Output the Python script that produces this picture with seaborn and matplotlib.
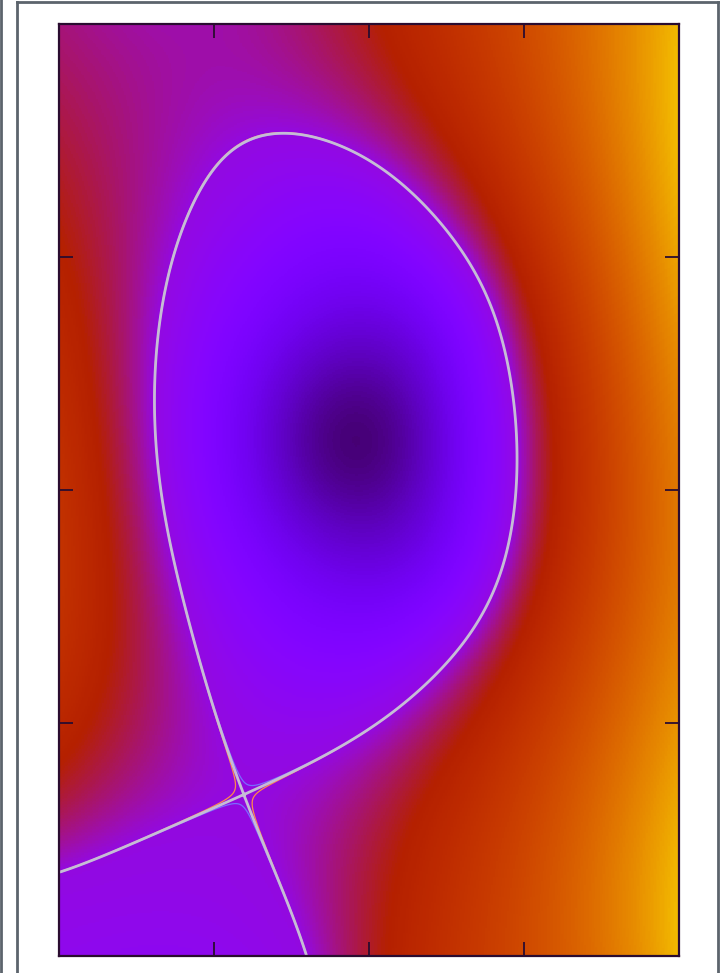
import numpy as np
import pandas as pd
import matplotlib
matplotlib.use("Agg")
import matplotlib.pyplot as plt
from matplotlib.lines import Line2D
import seaborn as sns

# Domain of the poloidal cross-section (major radius R, height Z)
R_MIN, R_MAX = 1.0, 3.0
Z_MIN, Z_MAX = -1.5, 1.5

# Normalised flux on the colour scale: magnetic axis and separatrix
axis_R, axis_Z, axis_level = 1.955, 0.16, 0.085
xpt_R, xpt_Z = 1.600, -0.982
sep_level = 0.33

# Separatrix trace (last closed flux surface plus the two divertor legs)
sep_R = [1.665, 1.584, 1.745, 1.874, 2.100, 2.261, 2.390, 2.461, 2.481, 2.455,
         2.390, 2.268, 2.100, 1.874, 1.713, 1.535, 1.439, 1.365, 1.319, 1.310,
         1.319, 1.352, 1.406, 1.477, 1.552, 1.423, 1.213, 1.000, 1.658, 1.726,
         1.794, 1.620, 1.710]
sep_Z = [1.152, 1.127, 1.140, 1.112, 0.998, 0.821, 0.596, 0.354, 0.129, -0.129,
         -0.354, -0.547, -0.692, -0.837, -0.927, 1.062, 0.933, 0.740, 0.515, 0.290,
         0.064, -0.161, -0.386, -0.644, -0.869, -1.056, -1.146, -1.230, -1.143, -1.320,
         -1.500, 1.148, 1.148]

# Sampled colour-scale values across the section
samp_R = [
    1.01, 1.294, 1.455, 1.665, 1.777, 1.939, 2.035, 2.229, 2.52, 2.65, 2.745, 2.99,
    1.01, 1.01, 1.01, 1.01, 1.01, 1.01, 1.132, 1.132, 1.132,
    1.01, 1.01, 1.294, 1.294, 1.52, 1.58, 1.01, 1.19, 1.40,
    2.00, 2.035, 2.26, 2.52, 2.552, 2.745, 2.99,
    2.99, 2.99, 2.99, 2.99, 2.81, 2.81, 2.81, 2.81,
    2.261, 2.519, 2.600, 2.552, 2.358, 2.197, 1.906,
    2.826, 2.874, 2.826,
    1.665, 2.552, 1.245, 2.326, 2.326, 1.423, 1.390,
    1.665, 2.406, 1.384, 2.229, 2.261, 1.535,
    1.616, 1.955, 1.955, 2.261, 1.955, 1.955,
]
samp_Z = [
    1.49, 1.384, 1.49, 1.384, 1.49, 1.32, 1.49, 1.384, 1.49, 1.48, 1.384, 1.49,
    1.094, 0.773, 0.129, -0.515, -0.998, 0.45, 0.129, 0.612, -0.515,
    -1.448, -1.33, -1.448, -1.30, -1.448, -1.18, -1.50, -1.50, -1.50,
    -1.49, -1.48, -1.49, -1.49, -1.48, -1.32, -1.49,
    0.773, 0.129, -0.676, 1.20, 1.094, 0.45, -0.19, -1.0,
    1.159, 0.612, 0.129, -0.418, -0.869, -0.998, -1.255,
    0.773, 0.129, -0.676,
    1.223, 0.129, 0.290, 0.869, -0.612, -0.740, 1.030,
    1.080, 0.129, 0.290, 0.773, -0.418, -0.676,
    0.129, 0.773, -0.515, 0.129, 0.45, -0.15,
]
samp_v = [
    0.44, 0.45, 0.44, 0.45, 0.46, 0.48, 0.50, 0.55, 0.66, 0.70, 0.76, 0.90,
    0.47, 0.49, 0.51, 0.50, 0.44, 0.50, 0.49, 0.48, 0.49,
    0.32, 0.325, 0.32, 0.32, 0.315, 0.32, 0.32, 0.32, 0.32,
    0.50, 0.50, 0.60, 0.70, 0.70, 0.80, 0.88,
    0.86, 0.80, 0.83, 0.90, 0.82, 0.75, 0.75, 0.81,
    0.50, 0.50, 0.50, 0.50, 0.50, 0.53, 0.46,
    0.70, 0.70, 0.70,
    0.42, 0.42, 0.43, 0.41, 0.42, 0.41, 0.42,
    0.30, 0.28, 0.28, 0.28, 0.28, 0.29,
    0.22, 0.24, 0.25, 0.20, 0.14, 0.14,
]

# Plasma current elements (R, Z, core radius) and the divertor coil
src_R = [1.955, 1.70, 1.70, 2.20, 2.20, 1.95, 1.95, 1.62, 2.25, 1.35]
src_Z = [0.16, 0.55, -0.25, 0.55, -0.25, 0.85, -0.55, 0.85, 0.10, -2.40]
src_a = [0.30, 0.30, 0.30, 0.30, 0.30, 0.30, 0.30, 0.25, 0.25, 0.10]
HARM_DEG = 6

# Colour ramp just outside the separatrix; gentle slope in the private region
RAMP_A, RAMP_W = 0.10, 0.04
PRIVATE_GAIN = 0.3


def to_colour(p):
    p = np.asarray(p, float)
    d = np.clip(p - sep_level, 0.0, None)
    return p + RAMP_A * (1.0 - np.exp(-d / RAMP_W))


_ptab = np.linspace(-1.0, 2.0, 30001)
_ctab = to_colour(_ptab)


def from_colour(c):
    return np.interp(c, _ctab, _ptab)


def basis(r, z):
    """Flux basis: constant, vacuum harmonics and smoothed current elements.
    Returns value, d/dR and d/dZ stacked along the last axis."""
    r = np.asarray(r, float); z = np.asarray(z, float)
    w = (r - 2.0) + 1j * z
    vals, dus, dvs = [np.ones_like(r)], [np.zeros_like(r)], [np.zeros_like(r)]
    for m in range(1, HARM_DEG + 1):
        wm = w ** m
        dw = m * w ** (m - 1)
        vals += [wm.real, wm.imag]
        dus += [dw.real, dw.imag]
        dvs += [-dw.imag, dw.real]
    for sr, sz, sa in zip(src_R, src_Z, src_a):
        q = (r - sr) ** 2 + (z - sz) ** 2 + sa ** 2
        vals.append(np.log(q))
        dus.append(2 * (r - sr) / q)
        dvs.append(2 * (z - sz) / q)
    return (np.stack(vals, -1), np.stack(dus, -1), np.stack(dvs, -1))


def is_private(r, z, p):
    return (np.asarray(z) < xpt_Z) & (np.asarray(p) < sep_level)


rows, rhs, wts = [], [], []


def add(row, val, w):
    rows.append(row); rhs.append(val); wts.append(w)


bv, bu, bz = basis(axis_R, axis_Z)
add(bv, axis_level, 10.0); add(bu, 0.0, 10.0); add(bz, 0.0, 10.0)
bv, bu, bz = basis(xpt_R, xpt_Z)
add(bv, sep_level, 50.0); add(bu, 0.0, 50.0); add(bz, 0.0, 50.0)
for r, z in zip(sep_R, sep_Z):
    add(basis(r, z)[0], sep_level, 50.0)
targets = from_colour(samp_v)
for r, z, val in zip(samp_R, samp_Z, targets):
    if z < xpt_Z and val < sep_level:
        val = sep_level - (sep_level - val) / PRIVATE_GAIN
    add(basis(r, z)[0], val, 3.0)
nb = len(bv)
for k in range(1, nb):
    e = np.zeros(nb); e[k] = 1.0
    add(e, 0.0, 1e-4)

A = np.array(rows) * np.array(wts)[:, None]
b = np.array(rhs) * np.array(wts)
coef, *_ = np.linalg.lstsq(A, b, rcond=None)

# Flux map on the grid (row 0 = top of the section)
NX, NY = 400, 600
R = np.linspace(R_MIN, R_MAX, NX)
Z = np.linspace(Z_MAX, Z_MIN, NY)
RR, ZZ = np.meshgrid(R, Z)
psi = basis(RR, ZZ)[0] @ coef

# Locate the saddle (X-point) to set the separatrix level
wr = np.linspace(xpt_R - 0.12, xpt_R + 0.12, 241)
wz = np.linspace(xpt_Z - 0.12, xpt_Z + 0.12, 241)
WR, WZ = np.meshgrid(wr, wz)
_, gu, gv = basis(WR, WZ)
g2 = (gu @ coef) ** 2 + (gv @ coef) ** 2
k = np.argmin(g2)
sep_val = float(basis(WR.flat[k], WZ.flat[k])[0] @ coef)

p_norm = psi - sep_val + sep_level
private = is_private(RR, ZZ, p_norm)
p_norm = np.where(private, sep_level - PRIVATE_GAIN * (sep_level - p_norm), p_norm)
colour = pd.DataFrame(to_colour(p_norm))

fig = plt.figure(figsize=(7.2, 9.73), dpi=100)
ax = fig.add_axes([59 / 720, 17 / 973, 620 / 720, 932 / 973])
sns.heatmap(colour, cmap="gnuplot", vmin=0.0, vmax=1.0, cbar=False, ax=ax,
            xticklabels=False, yticklabels=False, rasterized=True)

cx = np.arange(NX) + 0.5
cy = np.arange(NY) + 0.5
ax.contour(cx, cy, psi, levels=[sep_val - 0.0003], colors=["#7a6cff"], linewidths=0.9)
ax.contour(cx, cy, psi, levels=[sep_val + 0.0003], colors=["#ff8a4a"], linewidths=0.9)
ax.contour(cx, cy, psi, levels=[sep_val], colors=["#c6bcd6"], linewidths=2.0)

for s in ax.spines.values():
    s.set_visible(True)
    s.set_color("#2a0c30")
    s.set_linewidth(1.6)
ax.set_xticks([NX * 0.25, NX * 0.5, NX * 0.75])
ax.set_yticks([NY * 0.25, NY * 0.5, NY * 0.75])
ax.set_xticklabels([]); ax.set_yticklabels([])
ax.tick_params(direction="in", length=10, width=1.3, color="#2a0c30",
               top=True, right=True, bottom=True, left=True)

# Surrounding frame
frame = "#5c646c"
fig.add_artist(Line2D([1 / 720, 1 / 720], [0, 1], color=frame, lw=2))
fig.add_artist(Line2D([17 / 720, 17 / 720], [0, 1 - 2 / 973], color=frame, lw=2))
fig.add_artist(Line2D([17 / 720, 718 / 720], [1 - 2 / 973, 1 - 2 / 973], color=frame, lw=2))
fig.add_artist(Line2D([718 / 720, 718 / 720], [0, 1 - 2 / 973], color=frame, lw=2))

fig.savefig("out.png", dpi=100)
